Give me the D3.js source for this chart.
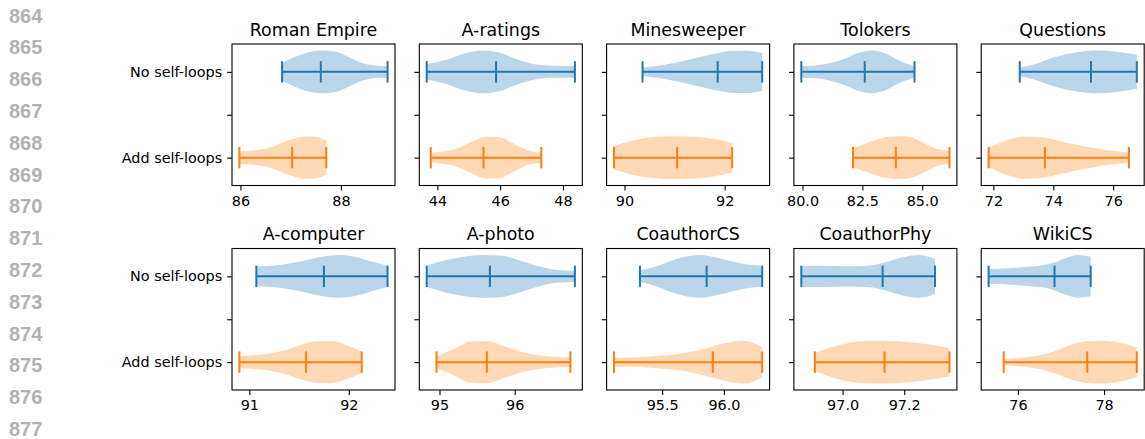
<!DOCTYPE html>
<html lang="en">

<head>
    <meta charset="UTF-8">
    <title>Self-loops violins</title>
    <script src="https://d3js.org/d3.v7.min.js"></script>
    <style>
        body {
            margin: 0;
            background: #fff;
        }

        .lineno {
            font-family: "Liberation Sans", Arial, sans-serif;
            font-size: 20px;
            font-weight: bold;
            fill: #b2b2b2;
        }

        .title {
            font-family: "DejaVu Sans", sans-serif;
            font-size: 17.4px;
        }
    </style>
</head>

<body>
    <svg id="chart" width="1145" height="439"></svg>
    <script>
        // datasets, one panel each (2 rows x 5)
        let datasets = ["Roman Empire", "A-ratings", "Minesweeper", "Tolokers", "Questions",
            "A-computer", "A-photo", "CoauthorCS", "CoauthorPhy", "WikiCS"]
        let groups = ["No self-loops", "Add self-loops"]

        // [min, median, max]
        let noLoopsStats = [
            [86.83, 87.60, 88.93],
            [43.66, 45.87, 48.38],
            [90.36, 91.86, 92.75],
            [79.95, 82.60, 84.68],
            [72.88, 75.26, 76.79],
            [91.07, 91.75, 92.39],
            [94.83, 95.67, 96.80],
            [95.32, 95.86, 96.31],
            [96.866, 97.13, 97.30],
            [75.32, 76.85, 77.69]
        ]
        let addLoopsStats = [
            [85.98, 87.03, 87.71],
            [43.79, 45.47, 47.31],
            [89.79, 91.05, 92.15],
            [82.11, 83.90, 86.14],
            [71.84, 73.72, 76.53],
            [90.90, 91.57, 92.13],
            [94.96, 95.63, 96.74],
            [95.11, 95.91, 96.31],
            [96.91, 97.136, 97.347],
            [75.67, 77.61, 78.76]
        ]

        // relative violin width (1 = widest) at 9 evenly spaced points from min to max
        let noLoopsShape = [
            [0.42, 0.7, 0.92, 1.0, 0.95, 0.7, 0.42, 0.3, 0.27],
            [0.35, 0.55, 0.85, 1.0, 0.88, 0.55, 0.33, 0.28, 0.27],
            [0.2, 0.28, 0.4, 0.55, 0.72, 0.87, 0.98, 0.99, 0.88],
            [0.27, 0.3, 0.4, 0.6, 0.88, 1.0, 0.85, 0.5, 0.27],
            [0.2, 0.35, 0.6, 0.8, 0.93, 1.0, 0.98, 0.9, 0.8],
            [0.46, 0.5, 0.6, 0.75, 0.92, 1.0, 0.92, 0.7, 0.5],
            [0.5, 0.75, 0.92, 1.0, 0.97, 0.75, 0.48, 0.3, 0.26],
            [0.28, 0.45, 0.72, 0.93, 1.0, 0.88, 0.7, 0.55, 0.5],
            [0.5, 0.5, 0.48, 0.47, 0.5, 0.65, 0.88, 1.0, 0.82],
            [0.34, 0.36, 0.4, 0.45, 0.5, 0.62, 0.85, 1.0, 0.92]
        ]
        let addLoopsShape = [
            [0.3, 0.32, 0.38, 0.5, 0.7, 0.88, 0.99, 0.97, 0.8],
            [0.23, 0.3, 0.45, 0.75, 0.97, 0.95, 0.65, 0.35, 0.23],
            [0.55, 0.75, 0.9, 0.97, 1.0, 0.99, 0.95, 0.85, 0.68],
            [0.45, 0.65, 0.85, 0.97, 1.0, 0.92, 0.65, 0.4, 0.3],
            [0.45, 0.8, 0.98, 0.95, 0.78, 0.6, 0.45, 0.32, 0.23],
            [0.28, 0.32, 0.4, 0.55, 0.8, 0.97, 0.98, 0.8, 0.5],
            [0.28, 0.6, 0.95, 0.98, 0.75, 0.5, 0.33, 0.25, 0.2],
            [0.2, 0.22, 0.26, 0.33, 0.45, 0.65, 0.88, 1.0, 0.7],
            [0.43, 0.7, 0.9, 0.98, 1.0, 0.97, 0.9, 0.8, 0.66],
            [0.15, 0.2, 0.3, 0.5, 0.8, 0.97, 1.0, 0.9, 0.7]
        ]

        let xTicks = [
            [86, 88], [44, 46, 48], [90, 92], [80.0, 82.5, 85.0], [72, 74, 76],
            [91, 92], [95, 96], [95.5, 96.0], [97.0, 97.2], [76, 78]
        ]
        let xTickDecimals = [0, 0, 0, 1, 0, 0, 0, 1, 1, 0]

        let lineNumbers = [864, 865, 866, 867, 868, 869, 870, 871, 872, 873, 874, 875, 876, 877]

        let colors = ["#1f77b4", "#ff7f0e"]

        // layout (px)
        let panelLeft = 232
        let panelStep = 187.3
        let panelW = 163
        let rowTops = [44, 248.5]
        let panelH = 141.5
        let tickLen = 4.9
        let tickPad = 4.9
        let font = "DejaVu Sans, sans-serif"

        let svg = d3.select("#chart")

        // editor line numbers in the left gutter
        svg.selectAll(".lineno")
            .data(lineNumbers)
            .enter()
            .append("text")
            .attr("class", "lineno")
            .attr("x", 9)
            .attr("y", (d, i) => 22.5 + i * 31.8)
            .text(d => d)

        // positions: Add self-loops = 1, No self-loops = 2
        let positions = [2, 1]

        datasets.forEach((name, k) => {
            let col = k % 5
            let row = Math.floor(k / 5)
            let x0 = panelLeft + col * panelStep
            let y0 = rowTops[row]

            let stats = [noLoopsStats[k], addLoopsStats[k]]
            let shapes = [noLoopsShape[k], addLoopsShape[k]]

            let lo = d3.min(stats, s => s[0])
            let hi = d3.max(stats, s => s[2])
            let pad = (hi - lo) * 0.05
            let x = d3.scaleLinear().domain([lo - pad, hi + pad]).range([x0, x0 + panelW])
            let y = d3.scaleLinear().domain([0.675, 2.325]).range([y0 + panelH, y0])

            let g = svg.append("g").attr("class", "panel")

            // violin bodies
            stats.forEach((s, j) => {
                let shape = shapes[j]
                let pts = shape.map((w, i) => ({
                    v: s[0] + i / (shape.length - 1) * (s[2] - s[0]),
                    w: w * 0.25
                }))
                let area = d3.area()
                    .x(d => x(d.v))
                    .y0(d => y(positions[j] - d.w))
                    .y1(d => y(positions[j] + d.w))
                    .curve(d3.curveMonotoneX)
                g.append("path")
                    .attr("d", area(pts))
                    .attr("fill", colors[j])
                    .attr("fill-opacity", 0.3)

                // min / median / max bars and the connecting line
                g.append("line")
                    .attr("x1", x(s[0])).attr("x2", x(s[2]))
                    .attr("y1", y(positions[j])).attr("y2", y(positions[j]))
                    .attr("stroke", colors[j]).attr("stroke-width", 2)
                g.selectAll(null)
                    .data(s)
                    .enter()
                    .append("line")
                    .attr("x1", d => x(d)).attr("x2", d => x(d))
                    .attr("y1", y(positions[j] - 0.125)).attr("y2", y(positions[j] + 0.125))
                    .attr("stroke", colors[j]).attr("stroke-width", 2)
            })

            // x axis
            let xAxis = g.append("g")
                .attr("transform", `translate(0,${y0 + panelH})`)
                .call(d3.axisBottom(x)
                    .tickValues(xTicks[k])
                    .tickFormat(d3.format(`.${xTickDecimals[k]}f`))
                    .tickSize(tickLen)
                    .tickPadding(tickPad))
            xAxis.select(".domain").remove()

            // y axis (labels only in the first column)
            let yAxis = g.append("g")
                .attr("transform", `translate(${x0},0)`)
                .call(d3.axisLeft(y)
                    .tickValues([1, 1.5, 2])
                    .tickFormat(d => col === 0 ? (d === 2 ? groups[0] : d === 1 ? groups[1] : "") : "")
                    .tickSize(tickLen)
                    .tickPadding(tickPad))
            yAxis.select(".domain").remove()

            g.selectAll(".tick line").attr("stroke", "#000").attr("stroke-width", 1.1)
            g.selectAll(".tick text")
                .attr("font-family", font)
                .attr("font-size", "14.4px")
                .attr("fill", "#000")

            // frame
            g.append("rect")
                .attr("x", x0).attr("y", y0)
                .attr("width", panelW).attr("height", panelH)
                .attr("fill", "none")
                .attr("stroke", "#000")
                .attr("stroke-width", 1.1)

            g.append("text")
                .attr("class", "title")
                .attr("x", x0 + panelW / 2)
                .attr("y", y0 - 8.3)
                .attr("text-anchor", "middle")
                .text(name)
        })
    </script>
</body>

</html>
